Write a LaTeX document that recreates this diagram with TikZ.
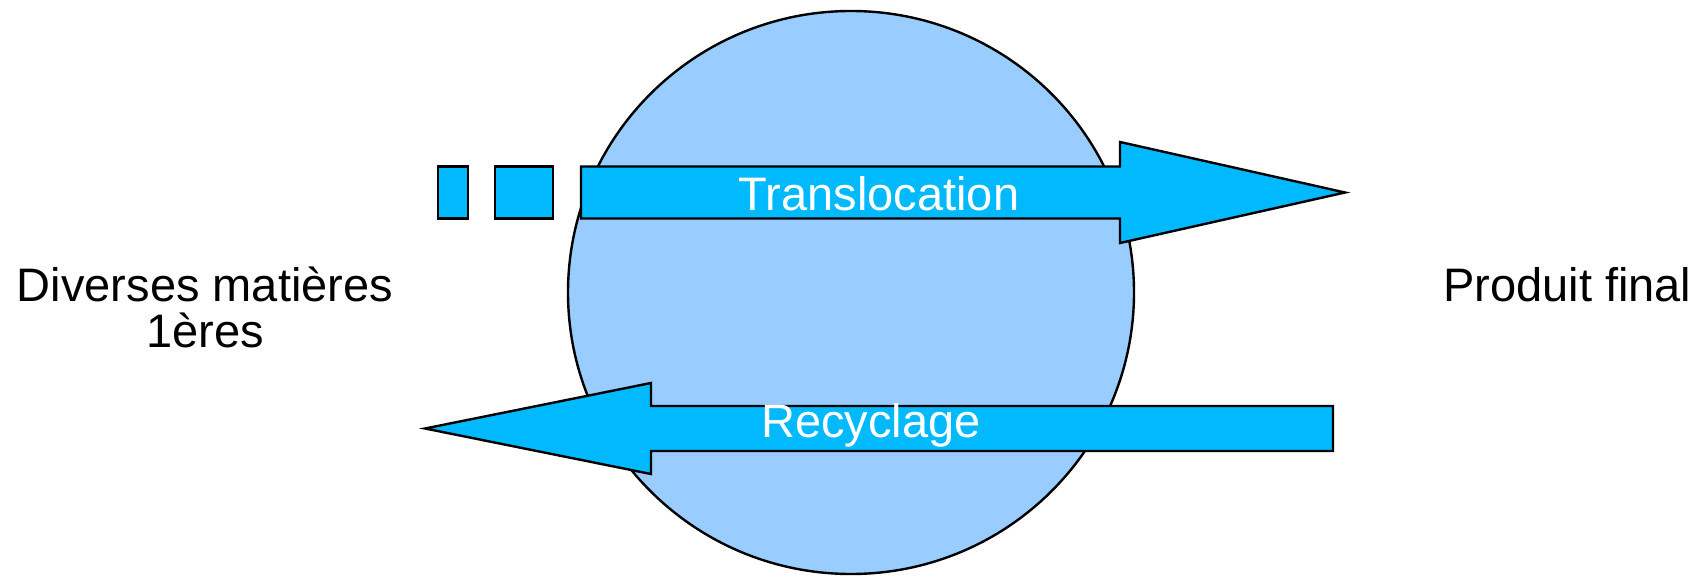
\documentclass[tikz,border=0pt]{standalone}
\usepackage{fontspec}
\setmainfont{Liberation Sans}
\definecolor{arrowblue}{HTML}{00B9FF}
\definecolor{cellblue}{HTML}{99CCFF}
\begin{document}
\begin{tikzpicture}[x=1pt,y=-1pt, line join=miter,
  shapebox/.style={draw=black, line width=2.4pt, fill=arrowblue},
  lbl/.style={font=\fontsize{47}{46}\selectfont, inner sep=0pt}]
\useasboundingbox (0,0) rectangle (1704,577);
\draw[fill=cellblue, line width=2.4pt] (851,292.5) ellipse [x radius=283pt, y radius=281.5pt];
\draw[shapebox] (581,166.5) -- (1120,166.5) -- (1120,142) -- (1345,192.5) -- (1120,243) -- (1120,218.5) -- (581,218.5) -- cycle;
\draw[shapebox] (438,166.5) rectangle (468,218.5);
\draw[shapebox] (495,166.5) rectangle (553,218.5);
\draw[shapebox] (1333,406) -- (651,406) -- (651,383) -- (425,428.5) -- (651,474) -- (651,451) -- (1333,451) -- cycle;
\node[lbl, anchor=base, text=white] (trans) at (879,211) {Translocation};
\node[lbl, anchor=base, text=white] (recy) at (871,437) {Recyclage};
\node[lbl, align=center, anchor=base] (matieres) at (205,347) {Diverses matières\\1ères};
\node[lbl, anchor=base west] (produit) at (1443,301) {Produit final};
\end{tikzpicture}
\end{document}
